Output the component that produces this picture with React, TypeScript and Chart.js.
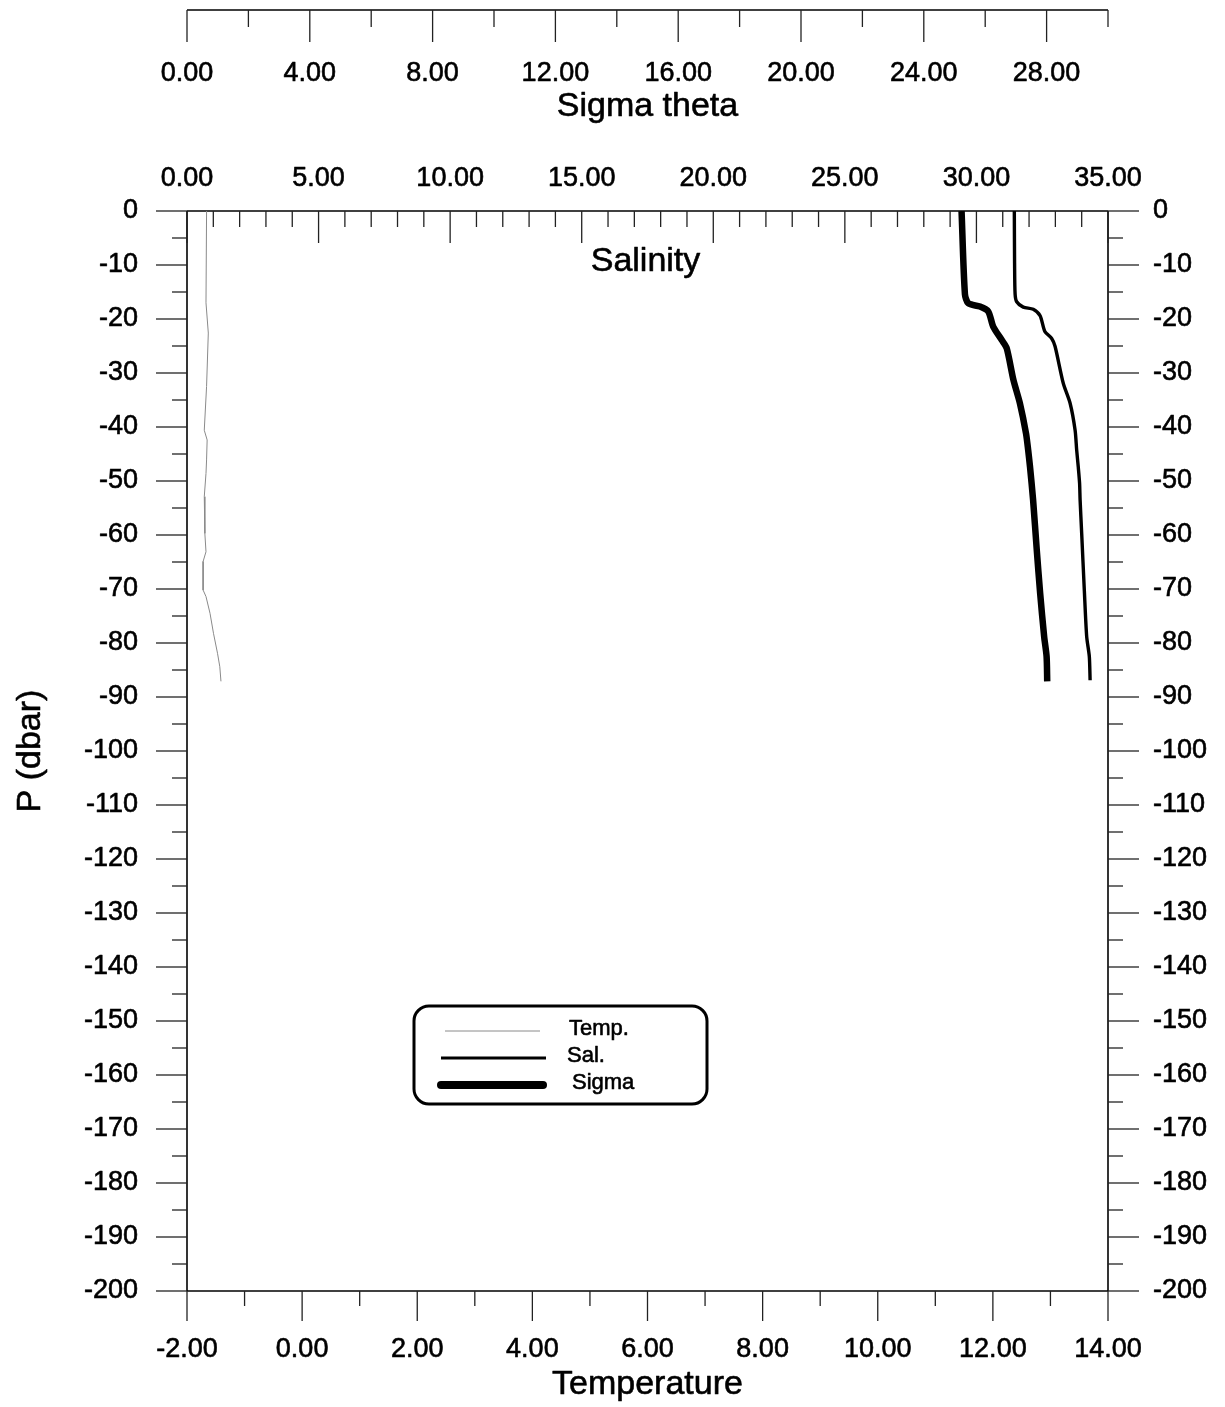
import { useEffect, useRef } from 'react';
import { Chart, registerables } from 'chart.js';

Chart.register(...registerables);

const FONT = '"Liberation Sans", Arial, Helvetica, sans-serif';

// CTD cast: pressure (dbar, negative downward) paired with each measured property
const tempPressure = [0, -17, -22.6, -32.5, -40.6, -42.4, -46.1, -48.6, -52.9, -59.7, -63.1, -64.9, -70.2, -71.4, -74.5, -78.2, -81.9, -84.4, -87.1];
const temperature = [-1.66, -1.67, -1.63, -1.66, -1.7, -1.65, -1.66, -1.67, -1.7, -1.69, -1.67, -1.72, -1.72, -1.67, -1.6, -1.54, -1.47, -1.43, -1.41];

const salPressure = [0, -9.7, -15.4, -16.8, -17.8, -18.2, -19.4, -22.3, -23.6, -25.1, -31.9, -35.6, -40.6, -44.3, -47.4, -50.4, -53.5, -59.7, -70.2, -78.8, -82.5, -86.9];
const salinity = [31.44, 31.45, 31.47, 31.53, 31.78, 32.16, 32.42, 32.6, 32.86, 32.99, 33.3, 33.56, 33.75, 33.81, 33.87, 33.92, 33.94, 34.0, 34.1, 34.19, 34.29, 34.32];

const sigPressure = [0, -15.4, -17.1, -17.7, -18.6, -21.4, -23.9, -25.4, -31.3, -35.6, -41.2, -44.3, -47.4, -53.5, -62.8, -70.8, -78.8, -82.5, -87.1];
const sigmaTheta = [25.23, 25.34, 25.45, 25.83, 26.1, 26.26, 26.54, 26.7, 26.92, 27.13, 27.33, 27.4, 27.46, 27.56, 27.68, 27.79, 27.92, 28.0, 28.02];

// Axis ranges and labelled ticks
const pressureTicks = [0, -10, -20, -30, -40, -50, -60, -70, -80, -90, -100, -110, -120, -130, -140, -150, -160, -170, -180, -190, -200];
const temperatureTicks = [-2, 0, 2, 4, 6, 8, 10, 12, 14];
const salinityTicks = [0, 5, 10, 15, 20, 25, 30, 35];
const sigmaTicks = [0, 4, 8, 12, 16, 20, 24, 28];

const pressureMinorStep = 5;
const temperatureMinorStep = 1;
const salinityMinorStep = 1;
const sigmaMinorStep = 2;

const legendItems = [
  { label: 'Temp.', color: '#8a8a8a', width: 1 },
  { label: 'Sal.', color: '#000000', width: 3 },
  { label: 'Sigma', color: '#000000', width: 8 },
];

const toPoints = (xs: number[], ps: number[]) => xs.map((x, i) => ({ x, y: ps[i] }));

const drawText = (
  ctx: CanvasRenderingContext2D,
  s: string,
  x: number,
  y: number,
  align: CanvasTextAlign,
  size: number,
) => {
  ctx.font = `${size}px ${FONT}`;
  ctx.textAlign = align;
  ctx.textBaseline = 'middle';
  ctx.fillStyle = '#000';
  ctx.strokeStyle = '#000';
  ctx.lineWidth = 0.6;
  ctx.lineJoin = 'round';
  ctx.fillText(s, x, y);
  ctx.strokeText(s, x, y);
};

const profileAxes = {
  id: 'profileAxes',
  beforeDatasetsDraw(chart: any) {
    const ctx: CanvasRenderingContext2D = chart.ctx;
    const { left, right, top, bottom } = chart.chartArea;
    const y = chart.scales.y;
    const xT = chart.scales.xT;
    const xS = chart.scales.xS;
    const xG = chart.scales.xG;
    const midX = (left + right) / 2;
    const sigmaAxisY = top - 201;

    const seg = (x1: number, y1: number, x2: number, y2: number) => {
      ctx.beginPath();
      ctx.moveTo(x1, y1);
      ctx.lineTo(x2, y2);
      ctx.stroke();
    };

    ctx.save();
    ctx.lineCap = 'butt';

    // frame
    ctx.strokeStyle = '#000';
    ctx.lineWidth = 1.6;
    seg(left, top, left, bottom);
    seg(right, top, right, bottom);
    seg(left, top, right, top);
    seg(left, bottom, right, bottom);
    seg(left, sigmaAxisY, right, sigmaAxisY);

    ctx.strokeStyle = '#222';
    ctx.lineWidth = 1.3;

    // pressure ticks, outward on both sides
    for (let p = y.min; p <= y.max + 1e-9; p += pressureMinorStep) {
      const yy = y.getPixelForValue(p);
      const len = Math.round(p) % 10 === 0 ? 31 : 15;
      seg(left - len, yy, left, yy);
      seg(right, yy, right + len, yy);
    }
    // temperature ticks, downward below the frame
    for (let t = xT.min; t <= xT.max + 1e-9; t += temperatureMinorStep) {
      const xx = xT.getPixelForValue(t);
      const len = Math.round(t) % 2 === 0 ? 30 : 15;
      seg(xx, bottom, xx, bottom + len);
    }
    // salinity ticks, downward into the plot
    for (let s = xS.min; s <= xS.max + 1e-9; s += salinityMinorStep) {
      const xx = xS.getPixelForValue(s);
      const len = Math.round(s) % 5 === 0 ? 32 : 16;
      seg(xx, top, xx, top + len);
    }
    // sigma-theta ticks, downward from the detached axis
    for (let g = xG.min; g <= xG.max + 1e-9; g += sigmaMinorStep) {
      const xx = xG.getPixelForValue(g);
      const len = Math.round(g) % 4 === 0 ? 32 : 17;
      seg(xx, sigmaAxisY, xx, sigmaAxisY + len);
    }

    // tick labels
    pressureTicks.forEach((p) => {
      const yy = y.getPixelForValue(p);
      drawText(ctx, String(p), left - 49, yy, 'right', 27);
      drawText(ctx, String(p), right + 45, yy, 'left', 27);
    });
    temperatureTicks.forEach((t) => drawText(ctx, t.toFixed(2), xT.getPixelForValue(t), bottom + 59, 'center', 27));
    salinityTicks.forEach((s) => drawText(ctx, s.toFixed(2), xS.getPixelForValue(s), top - 32, 'center', 27));
    sigmaTicks.forEach((g) => drawText(ctx, g.toFixed(2), xG.getPixelForValue(g), sigmaAxisY + 64, 'center', 27));

    // axis titles
    drawText(ctx, 'Temperature', midX, bottom + 94, 'center', 34);
    drawText(ctx, 'Salinity', midX - 2, top + 51, 'center', 34);
    drawText(ctx, 'Sigma theta', midX, sigmaAxisY + 97, 'center', 34);
    ctx.save();
    ctx.translate(31, (top + bottom) / 2);
    ctx.rotate(-Math.PI / 2);
    drawText(ctx, 'P (dbar)', 0, 0, 'center', 34);
    ctx.restore();

    ctx.restore();
  },
  afterDatasetsDraw(chart: any) {
    const ctx: CanvasRenderingContext2D = chart.ctx;
    const { left } = chart.chartArea;
    const bx = left + 227;
    const by = 1006;
    const bw = 293;
    const bh = 98;
    const r = 15;

    ctx.save();
    ctx.beginPath();
    ctx.moveTo(bx + r, by);
    ctx.arcTo(bx + bw, by, bx + bw, by + bh, r);
    ctx.arcTo(bx + bw, by + bh, bx, by + bh, r);
    ctx.arcTo(bx, by + bh, bx, by, r);
    ctx.arcTo(bx, by, bx + bw, by, r);
    ctx.closePath();
    ctx.fillStyle = '#fff';
    ctx.fill();
    ctx.strokeStyle = '#000';
    ctx.lineWidth = 3;
    ctx.stroke();

    const rows = [
      { y: by + 25, x1: bx + 31, x2: bx + 126, tx: bx + 155 },
      { y: by + 52, x1: bx + 27, x2: bx + 132, tx: bx + 153 },
      { y: by + 79, x1: bx + 27, x2: bx + 129, tx: bx + 158 },
    ];
    legendItems.forEach((item, i) => {
      const row = rows[i];
      ctx.strokeStyle = item.color;
      ctx.lineWidth = item.width;
      ctx.lineCap = item.width > 4 ? 'round' : 'butt';
      ctx.beginPath();
      ctx.moveTo(row.x1, row.y);
      ctx.lineTo(row.x2, row.y);
      ctx.stroke();
      drawText(ctx, item.label, row.tx, row.y - 2, 'left', 22);
    });
    ctx.restore();
  },
};

export default function App() {
  const canvasRef = useRef<HTMLCanvasElement>(null);

  useEffect(() => {
    const canvas = canvasRef.current;
    if (!canvas) return;
    const chart = new Chart(canvas, {
      type: 'scatter',
      data: {
        datasets: [
          {
            label: 'Temp.',
            data: toPoints(temperature, tempPressure),
            xAxisID: 'xT',
            yAxisID: 'y',
            showLine: true,
            borderColor: '#8a8a8a',
            borderWidth: 1,
            pointRadius: 0,
            tension: 0,
          },
          {
            label: 'Sal.',
            data: toPoints(salinity, salPressure),
            xAxisID: 'xS',
            yAxisID: 'y',
            showLine: true,
            borderColor: '#000',
            borderWidth: 3.4,
            pointRadius: 0,
            tension: 0.25,
            borderJoinStyle: 'round',
          },
          {
            label: 'Sigma',
            data: toPoints(sigmaTheta, sigPressure),
            xAxisID: 'xG',
            yAxisID: 'y',
            showLine: true,
            borderColor: '#000',
            borderWidth: 6.5,
            pointRadius: 0,
            tension: 0.25,
            borderJoinStyle: 'round',
          },
        ],
      },
      options: {
        responsive: false,
        animation: false,
        devicePixelRatio: 1,
        events: [],
        layout: { padding: { left: 187, top: 211, right: 117, bottom: 116 } },
        plugins: { legend: { display: false }, tooltip: { enabled: false } },
        scales: {
          xT: { type: 'linear', position: 'bottom', min: -2, max: 14, display: false },
          xS: { type: 'linear', position: 'top', min: 0, max: 35, display: false },
          xG: { type: 'linear', position: 'top', min: 0, max: 30, display: false },
          y: { type: 'linear', position: 'left', min: -200, max: 0, display: false },
        },
      },
      plugins: [profileAxes],
    });
    return () => chart.destroy();
  }, []);

  return (
    <div style={{ position: 'fixed', left: 0, top: 0, width: 1225, height: 1407, background: '#fff' }}>
      <canvas ref={canvasRef} width={1225} height={1407} style={{ display: 'block', width: 1225, height: 1407 }} />
    </div>
  );
}
